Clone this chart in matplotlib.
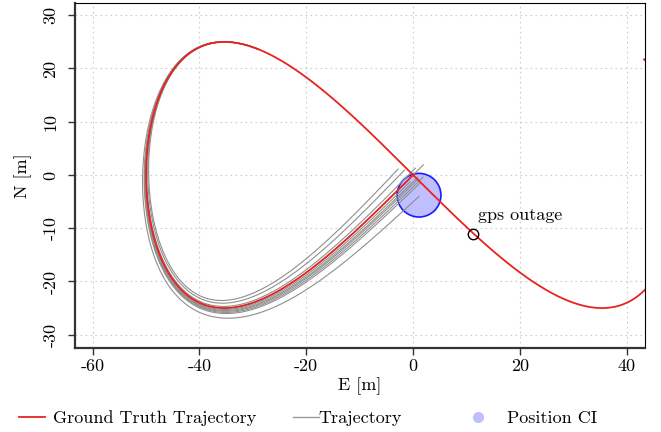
import numpy as np
import matplotlib
matplotlib.use('Agg')
import matplotlib.pyplot as plt
from matplotlib.lines import Line2D
from matplotlib.patches import Circle

plt.rcParams['font.family'] = 'serif'
plt.rcParams['font.serif'] = ['cmr10', 'DejaVu Serif']
plt.rcParams['axes.unicode_minus'] = False
plt.rcParams['axes.formatter.use_mathtext'] = True

# lemniscate of Gerono: E = a cos t, N = a sin t cos t
amp = 50.0
t_truth = (0.527, -1.5 * np.pi)     # ground truth parameter range
t_pred_start = -2.19                # where the dead-reckoning runs begin

# per-run error at the end of the outage (m): cross-track (+ = outward), along-track
cross_end = [-2.8, -1.8, -0.6, 0.0, 0.5, 0.9, 1.2, 1.6, 2.0, 3.7]
along_end = [-1.2, -0.5, 1.2, 2.7, -1.3, 0.3, 0.1, 1.0, -0.1, -2.1]

outage_pt = (11.2, -11.1)
ci_center = (1.1, -3.8)
ci_radius = 4.1

xticks = [-60, -40, -20, 0, 20, 40]
yticks = [-30, -20, -10, 0, 10, 20, 30]


def gerono(t):
  return amp * np.cos(t), amp * np.sin(t) * np.cos(t)


def run(cross, along, n=600, p=1.8):
  t_end = t_truth[1] - along / (amp * np.sqrt(2))
  t = np.linspace(t_pred_start, t_end, n)
  e, nn = gerono(t)
  # direction of travel (t decreasing)
  de = amp * np.sin(t)
  dn = -amp * np.cos(2 * t)
  L = np.hypot(de, dn)
  s = (t_pred_start - t) / (t_pred_start - t_truth[1])
  off = cross * np.clip(s, 0, None) ** p
  # right-hand normal points out of the left lobe
  return e + off * dn / L, nn - off * de / L


fig = plt.figure(figsize=(6.61, 4.32), dpi=100)
ax = fig.add_axes([75 / 661, 84 / 432, 570 / 661, 345 / 432])

ax.add_patch(Circle(ci_center, ci_radius, facecolor='#bfbfff', edgecolor='#1a1aff',
                    lw=1.2, zorder=2))

for c, a in zip(cross_end, along_end):
  e, n = run(c, a)
  ax.plot(e, n, color='#8f8f8f', lw=0.8, zorder=3)

tt = np.linspace(t_truth[0], t_truth[1], 2000)
ge, gn = gerono(tt)
ax.plot(ge, gn, color='#e8231f', lw=1.3, zorder=4)

ax.plot(*outage_pt, 'o', mfc='none', mec='black', ms=7.5, mew=1.0, zorder=5)
ax.text(outage_pt[0] + 0.9, outage_pt[1] + 3.6, 'gps outage', fontsize=13,
        ha='left', va='center')

ax.set_xlim(-63.3, 43.4)
ax.set_ylim(-32.5, 32.3)
ax.set_xticks(xticks)
ax.set_yticks(yticks)
ax.set_xticklabels([str(v) for v in xticks], fontsize=13)
ax.set_yticklabels([str(v) for v in yticks], fontsize=13, rotation=90, va='center')
ax.tick_params(axis='both', direction='out', length=5, width=1.0, color='#333333')
ax.tick_params(axis='x', pad=3)
ax.tick_params(axis='y', pad=7)
ax.grid(True, color='#cccccc', linestyle=(0, (1.5, 3)), lw=0.8, zorder=0)
ax.set_axisbelow(True)

for side in ['left', 'bottom']:
  ax.spines[side].set_linewidth(1.6)
  ax.spines[side].set_color('#333333')
for side in ['top', 'right']:
  ax.spines[side].set_linewidth(0.8)
  ax.spines[side].set_color('black')

ax.set_xlabel('E [m]', fontsize=13, labelpad=2)
ax.set_ylabel('N [m]', fontsize=13, labelpad=8)

# legend entries laid out along the bottom
h_truth = Line2D([], [], color='#e8231f', lw=1.3)
h_traj = Line2D([], [], color='#9a9a9a', lw=1.0)
h_ci = Line2D([], [], ls='none', marker='o', ms=8, mfc='#bfbfff', mec='none')
fig.legend([h_truth], ['Ground Truth Trajectory'], loc='center left',
           bbox_to_anchor=(12 / 661, 14 / 432), frameon=False, fontsize=13,
           handlelength=1.4, handletextpad=0.45, borderaxespad=0)
fig.legend([h_traj], ['Trajectory'], loc='center left',
           bbox_to_anchor=(286 / 661, 14 / 432), frameon=False, fontsize=13,
           handlelength=1.4, handletextpad=0.0, borderaxespad=0)
fig.legend([h_ci], ['Position CI'], loc='center left',
           bbox_to_anchor=(458 / 661, 14 / 432), frameon=False, fontsize=13,
           handlelength=1.4, handletextpad=0.9, borderaxespad=0)

fig.savefig('out.png', dpi=100)
